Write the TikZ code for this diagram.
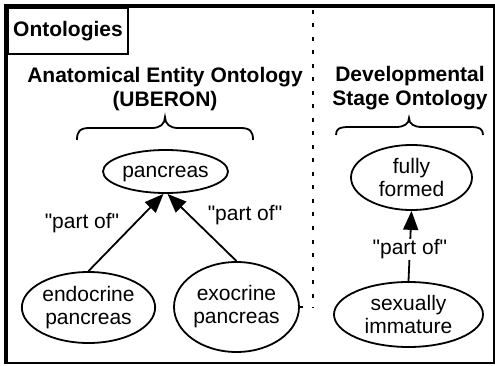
\documentclass[tikz,border=0pt]{standalone}
\usepackage{fontspec}
\setmainfont{Liberation Sans}
\usetikzlibrary{shapes.geometric,arrows.meta}
\newcommand{\qpart}{\textquotedbl part of\textquotedbl}
\begin{document}
\begin{tikzpicture}[x=1pt,y=-1pt,
  txt/.style={font=\fontsize{21}{23}\selectfont, align=center, inner sep=1pt},
  ttl/.style={font=\fontsize{21}{24.5}\selectfont\bfseries, align=center, inner sep=0pt},
  ell/.style={ellipse, draw, line width=1.8pt, inner sep=0pt, txt},
  arr/.style={line width=1.8pt, -{Triangle[length=19pt,width=15pt]}},
  brc/.style={line width=1.8pt}
]
\useasboundingbox (0,0) rectangle (495,366);
% frame
\draw[line width=1.5pt] (5,6) rectangle (494,363);
\draw[line width=4pt] (6,363) -- (6,6) -- (495,6);
\node[draw, line width=1.5pt, minimum width=120pt, minimum height=46pt, inner sep=0pt,
  font=\fontsize{21}{23}\selectfont\bfseries] (ont) at (68,31) {Ontologies};
% titles
\node[ttl] (t1) at (165,89) {Anatomical Entity Ontology\\(UBERON)};
\node[ttl] (t2) at (410,88) {Developmental\\Stage Ontology};
% braces
\draw[brc] (77,140) .. controls (77,131) and (80,128) .. (90,128) -- (152,128)
  .. controls (160,128) and (165,124) .. (165,117)
  .. controls (165,124) and (170,128) .. (178,128) -- (240,128)
  .. controls (250,128) and (253,131) .. (253,140);
\draw[brc] (336,135) .. controls (336,129) and (339,127) .. (349,127) -- (396,127)
  .. controls (404,127) and (409,124) .. (409,118)
  .. controls (409,124) and (414,127) .. (422,127) -- (470,127)
  .. controls (480,127) and (483,129) .. (483,135);
% ellipses
\node[ell, minimum width=121pt, minimum height=43pt, text depth=0pt] (pan) at (165.5,171.5) {pancreas};
\node[ell, minimum width=127pt, minimum height=71pt] (endo) at (88.5,307.5) {endocrine\\pancreas};
\node[ell, minimum width=121pt, minimum height=90pt] (exo) at (236.5,307) {exocrine\\pancreas};
\node[ell, minimum width=121pt, minimum height=65pt] (full) at (411.5,177.5) {fully\\formed};
\node[ell, minimum width=149pt, minimum height=65pt] (sex) at (408.5,314.5) {sexually\\immature};
% arrows
\draw[arr] (endo.north) -- ([xshift=-2pt]pan.south);
\draw[arr] (exo.north) -- ([xshift=2pt]pan.south);
\node[txt] (l1) at (82,223) {\qpart};
\node[txt] (l2) at (245,215) {\qpart};
\draw[arr] (sex.north) -- node[txt, fill=white, pos=0.45] (l3) {\qpart} (full.south);
% divider
\coordinate (dtop) at (313,10);
\coordinate (dbot) at (313,308);
\draw[line width=2.5pt, dash pattern=on 4pt off 9.5pt] (dtop) -- (dbot);
\coordinate (tick) at (302.5,307);
\draw[line width=1.8pt] (exo.east) -- (tick);
\end{tikzpicture}
\end{document}
